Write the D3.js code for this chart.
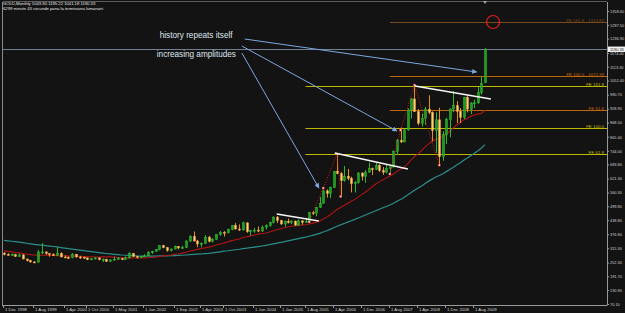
<!DOCTYPE html>
<html>
<head>
<meta charset="utf-8">
<script src="https://cdn.jsdelivr.net/npm/d3@7"></script>
<style>
body { margin: 0; background: #131313; }
svg { display: block; font-family: "Liberation Sans", "DejaVu Sans", sans-serif; }
</style>
</head>
<body>
<div class="chart"></div>
<script>
// monthly GOLD candles, Dec 1998 .. Nov 2009
const firstMonth = "1998-12";
const opens  = [294,288,287,287,279,286,268,261,255,254,299,299,292,288,284,293,277,275,274,289,277,276,273,265,269,
                273,265,267,258,264,267,271,265,273,293,279,275,279,282,297,302,309,327,318,305,312,324,317,318,
                347,368,347,334,336,364,346,355,375,385,384,397,416,400,396,427,388,394,395,391,408,415,429,452,
                438,422,434,428,435,417,436,429,433,473,470,495,513,568,556,582,654,643,613,632,623,599,604,646,
                632,650,665,662,680,657,650,666,673,742,789,783,836,923,972,916,865,887,927,913,833,880,718,815,
                882,928,942,917,891,979,927,954,955,1000,1043.9];
const highs  = [298,293,292,291,291,290,270,264,259,308,338,302,293,293,320,297,284,280,294,290,282,278,274,272,276,
                274,270,269,266,278,276,272,279,298,294,282,281,289,302,304,311,328,330,321,314,327,325,326,350,
                372,389,352,341,373,370,360,376,391,391,401,417,427,420,432,428,396,405,411,415,420,432,456,457,
                440,437,446,437,436,442,437,449,475,479,497,541,571,574,586,654,730,650,677,664,630,610,650,649,
                659,691,670,692,685,672,683,675,745,796,848,840,930,976,1033,928,908,937,988,917,913,933,830,889,
                930,1007,962,932,981,990,958,969,1024,1070,1195.22];
const lows   = [284,283,282,278,278,267,257,252,251,253,290,287,278,281,282,275,273,268,271,274,268,268,263,263,266,
                262,255,255,255,263,266,263,264,271,278,270,272,277,281,290,299,306,315,300,301,311,310,314,316,
                343,345,320,319,334,341,341,351,370,367,380,395,398,391,393,383,371,383,386,387,398,410,424,426,
                418,410,424,421,414,414,418,428,431,462,456,492,513,538,535,581,641,543,608,614,561,560,600,613,
                603,647,637,660,651,638,645,642,670,725,778,781,832,886,915,856,850,858,905,786,735,681,700,773,
                803,914,866,866,884,913,905,932,950,991,1041.18];
const closes = [288,287,287,279,286,268,261,255,254,299,299,292,288,284,293,277,275,274,289,277,276,273,265,269,273,
                265,267,258,264,267,271,265,273,293,279,275,279,282,297,302,309,327,318,305,312,324,317,318,347,
                368,347,334,336,364,346,355,375,385,384,397,416,400,396,427,388,394,395,391,408,415,429,452,438,
                422,434,428,435,417,436,429,433,473,470,495,513,568,556,582,654,643,613,632,623,599,604,646,632,
                650,665,662,680,657,650,666,673,742,789,783,836,923,972,916,865,887,927,913,833,880,718,815,882,
                928,942,917,891,979,927,954,955,1000,1040,1190.33];
// closes Nov 1994 .. Nov 1998, feed the moving averages
const priorCloses = [383,383,375,376,392,389,385,387,383,382,384,382,387,387,405,400,396,392,390,382,385,387,379,379,
                     371,369,345,358,349,340,345,334,326,325,332,311,296,290,304,297,301,310,293,296,288,273,294,292,294];

const yTicks = [70.10,130.90,191.70,252.30,315.30,376.80,438.80,499.80,560.30,621.30,683.80,744.00,
                805.40,868.50,928.90,990.70,1052.40,1113.30,1174.00,1236.90,1297.50,1358.60];
const dateTicks = ["1 Dec 1998","1 Aug 1999","1 Apr 2000","1 Oct 2000","1 May 2001","1 Jan 2002","1 Sep 2002",
                   "1 Apr 2003","1 Oct 2003","1 Jun 2004","1 Jan 2005","1 Aug 2005","1 Apr 2006","1 Dec 2006",
                   "1 Aug 2007","1 Apr 2008","1 Dec 2008","1 Aug 2009"];

// Fibonacci expansion levels
const feYellowStart = "2005-08";
const feYellowNames = ["FE 161.8","FE 100.0","FE 61.8"];
const feYellowPrices = [1028.8, 844.1, 729.7];
const feOrangeStart = "2007-08";
const feOrangeNames = ["FE 161.8 - 1313.83","FE 100.0 - 1072.39","FE 61.8"];
const feOrangePrices = [1310.2, 1072.7, 923.2];

// zigzag pivots
const zigDates  = [["2005-09","2006-01","2006-05","2006-06"],["2007-08","2007-11","2008-03","2008-10"]];
const zigPrices = [[431, 580, 730, 543],[642, 835, 1033, 681]];

// drawn trend lines [date, price]
const trendLines = [
    [["2004-11-28",465.9],["2005-11-25",435.1]],
    [["2006-04-11",734.1],["2008-01-04",663.8]],
    [["2008-03-04",1028.8],["2009-12-22",971.6]]
];
// arrows from the notes
const arrows = [
    [["2004-03-16",1235.4],["2009-08-21",1090.3]],
    [["2004-02-22",1204.7],["2007-10-01",830.9]],
    [["2004-02-22",1173.9],["2005-11-25",580.2]]
];
const notes = [
    {text: "history repeats itself", date: "2002-05-04", price: 1239.9},
    {text: "increasing amplitudes", date: "2002-04-10", price: 1156.3}
];
const circleMark = {date: "2010-01-10", price: 1310.2};

const headerLine1 = "GOLD,Monthly  1043.90 1195.22 1041.18 1190.33";
const headerLine2 = "6299 minute 43 secunde pana la terminarea lumanarii";

const W = 625, H = 313;
const plot = {left: 3, right: 607, top: 2, bottom: 305};

const parseM = d3.timeParse("%Y-%m");
const parseD = d3.timeParse("%Y-%m-%d");
const parseTick = d3.timeParse("%e %b %Y");
const pd = s => parseD(s) || parseM(s);

const start = parseM(firstMonth);
const bars = closes.map((c, i) => ({
    date: d3.timeMonth.offset(start, i), o: opens[i], h: highs[i], l: lows[i], c: c
}));

const x = d3.scaleTime()
    .domain([start, parseM("2005-01"), bars[bars.length - 1].date])
    .range([4, 281, 485]);
const y = d3.scaleLinear().domain([70.1, 1358.6]).range([304, 11]);

const svg = d3.select(".chart").append("svg")
    .attr("width", W)
    .attr("height", H);

svg.append("rect").attr("width", W).attr("height", H).attr("fill", "#131313");

svg.append("defs").append("clipPath").attr("id", "clip")
    .append("rect")
    .attr("x", plot.left).attr("y", plot.top)
    .attr("width", plot.right - plot.left).attr("height", plot.bottom - plot.top);

svg.append("defs").append("marker")
    .attr("id", "arrow")
    .attr("viewBox", "0 0 10 10")
    .attr("refX", 9).attr("refY", 5)
    .attr("markerWidth", 6).attr("markerHeight", 5)
    .attr("orient", "auto")
    .append("path")
    .attr("d", "M0,0L10,5L0,10z")
    .attr("fill", "#7da8e0");

const g = svg.append("g").attr("clip-path", "url(#clip)");

// current price line
const last = bars[bars.length - 1];
g.append("line")
    .attr("x1", plot.left).attr("x2", plot.right)
    .attr("y1", Math.round(y(last.c)) + 0.5).attr("y2", Math.round(y(last.c)) + 0.5)
    .attr("stroke", "#6f7f94").attr("stroke-width", 1);

// fibonacci levels
function feLevels(startDate, names, prices, colors) {
    const lv = g.append("g");
    prices.forEach((p, i) => {
        const yy = Math.round(y(p)) + 0.5;
        lv.append("line")
            .attr("x1", x(parseM(startDate))).attr("x2", plot.right)
            .attr("y1", yy).attr("y2", yy)
            .attr("stroke", colors[i]).attr("stroke-width", 1);
        lv.append("text")
            .attr("x", plot.right - 3).attr("y", yy - 1)
            .attr("text-anchor", "end")
            .attr("font-size", 4.4)
            .attr("fill", colors[i])
            .text(names[i]);
    });
}
feLevels(feYellowStart, feYellowNames, feYellowPrices, ["#bdb800", "#bdb800", "#bdb800"]);
feLevels(feOrangeStart, feOrangeNames, feOrangePrices, ["#7a4a1c", "#c0640e", "#c0640e"]);

// moving averages
const allCloses = priorCloses.concat(closes);
function sma(n) {
    const off = priorCloses.length;
    return bars.map((b, i) => ({date: b.date, v: d3.mean(allCloses.slice(off + i - n + 1, off + i + 1))}));
}
const maLine = d3.line().x(d => x(d.date)).y(d => y(d.v));
g.append("path").datum(sma(50))
    .attr("d", maLine).attr("fill", "none")
    .attr("stroke", "#2a8f8a").attr("stroke-width", 1.2);
g.append("path").datum(sma(20))
    .attr("d", maLine).attr("fill", "none")
    .attr("stroke", "#b01414").attr("stroke-width", 1.1);

// candles
const candles = g.append("g").selectAll("g")
    .data(bars)
    .join("g")
    .attr("transform", d => "translate(" + Math.round(x(d.date)) + ",0)");

candles.append("line")
    .attr("x1", 0.5).attr("x2", 0.5)
    .attr("y1", d => y(d.h)).attr("y2", d => y(d.l))
    .attr("stroke", d => d.c >= d.o ? "#2fb82f" : "#e8901e")
    .attr("stroke-width", 1);

candles.append("rect")
    .attr("x", -0.5)
    .attr("width", 2)
    .attr("y", d => y(Math.max(d.o, d.c)))
    .attr("height", d => Math.max(1, Math.abs(y(d.o) - y(d.c))))
    .attr("fill", d => d.c >= d.o ? "#1f9a1f" : "#ffd07a")
    .attr("stroke", d => d.c >= d.o ? "#35c435" : "#f0a236")
    .attr("stroke-width", 0.5);

// zigzag
const zigLine = d3.line().x(d => x(parseM(d[0]))).y(d => y(d[1]));
zigDates.forEach((ds, k) => {
    const pts = ds.map((d, i) => [d, zigPrices[k][i]]);
    g.append("path").datum(pts)
        .attr("d", zigLine).attr("fill", "none")
        .attr("stroke", "#c81c1c").attr("stroke-width", 1)
        .attr("stroke-dasharray", "1,1.5");
    g.append("g").selectAll("rect")
        .data(pts)
        .join("rect")
        .attr("x", d => x(parseM(d[0])) - 1)
        .attr("y", d => y(d[1]) - 1)
        .attr("width", 2).attr("height", 2)
        .attr("fill", "#ffe0e0")
        .attr("stroke", "#d02020").attr("stroke-width", 0.4);
});

// trend lines
g.append("g").selectAll("line")
    .data(trendLines)
    .join("line")
    .attr("x1", d => x(pd(d[0][0]))).attr("y1", d => y(d[0][1]))
    .attr("x2", d => x(pd(d[1][0]))).attr("y2", d => y(d[1][1]))
    .attr("stroke", "#f4f4f4").attr("stroke-width", 1.6);

// notes and arrows
g.append("g").selectAll("line")
    .data(arrows)
    .join("line")
    .attr("x1", d => x(pd(d[0][0]))).attr("y1", d => y(d[0][1]))
    .attr("x2", d => x(pd(d[1][0]))).attr("y2", d => y(d[1][1]))
    .attr("stroke", "#7da8e0").attr("stroke-width", 1)
    .attr("marker-end", "url(#arrow)");

g.append("g").selectAll("text")
    .data(notes)
    .join("text")
    .attr("x", d => x(pd(d.date)))
    .attr("y", d => y(d.price))
    .attr("font-size", 8.2)
    .attr("fill", "#dfe6ee")
    .text(d => d.text);

g.append("circle")
    .attr("cx", x(pd(circleMark.date)))
    .attr("cy", y(circleMark.price))
    .attr("r", 6.5)
    .attr("fill", "none")
    .attr("stroke", "#e01e1e")
    .attr("stroke-width", 1.2);

// frame
svg.append("line").attr("x1", plot.left - 0.5).attr("x2", plot.left - 0.5)
    .attr("y1", plot.top).attr("y2", plot.bottom + 0.5)
    .attr("stroke", "#8a8a8a");
svg.append("line").attr("x1", plot.left).attr("x2", plot.right)
    .attr("y1", plot.top - 0.5).attr("y2", plot.top - 0.5)
    .attr("stroke", "#5c5c5c");
svg.append("path")
    .attr("d", "M" + (x(last.date) - 2) + ",1L" + (x(last.date) + 2) + ",1L" + x(last.date) + ",4z")
    .attr("fill", "#9aa6b4");

// price axis
const yAxis = svg.append("g")
    .attr("transform", "translate(" + (plot.right + 0.5) + ",0)")
    .call(d3.axisRight(y).tickValues(yTicks).tickFormat(d3.format(".2f")).tickSize(1.5).tickPadding(1));
yAxis.select(".domain").attr("stroke", "#9a9a9a").attr("d", "M0," + plot.top + "V" + plot.bottom);
yAxis.selectAll(".tick line").attr("stroke", "#9a9a9a");
yAxis.selectAll("text").attr("font-size", 3.9).attr("fill", "#cfcfcf").attr("font-family", "Liberation Sans");

// current price tag
svg.append("rect")
    .attr("x", plot.right + 1).attr("y", y(last.c) - 2.7)
    .attr("width", W - plot.right - 1).attr("height", 5.4)
    .attr("fill", "#f2f2f2");
svg.append("text")
    .attr("x", plot.right + 3).attr("y", y(last.c) + 1.5)
    .attr("font-size", 3.9).attr("fill", "#111")
    .text(d3.format(".2f")(last.c));

// time axis
const xAxis = svg.append("g")
    .attr("transform", "translate(0," + (plot.bottom + 0.5) + ")");
xAxis.append("line")
    .attr("x1", plot.left - 1).attr("x2", plot.right + 0.5)
    .attr("stroke", "#9a9a9a");
const xt = xAxis.selectAll("g.t")
    .data(dateTicks.map(parseTick))
    .join("g").attr("class", "t")
    .attr("transform", d => "translate(" + (Math.round(x(d)) - 0.5) + ",0)");
xt.append("line").attr("y1", 0).attr("y2", 2.5).attr("stroke", "#9a9a9a");
xt.append("text")
    .attr("x", 1.5).attr("y", 5.6)
    .attr("font-size", 4.3).attr("fill", "#cfcfcf")
    .text(d3.timeFormat("%-d %b %Y"));

// header
svg.append("text").attr("x", 3).attr("y", 5.2)
    .attr("font-size", 4.2).attr("fill", "#e6e6e6")
    .text(headerLine1);
svg.append("text").attr("x", 3).attr("y", 9.6)
    .attr("font-size", 4.2).attr("fill", "#e6e6e6")
    .text(headerLine2);
</script>
</body>
</html>
